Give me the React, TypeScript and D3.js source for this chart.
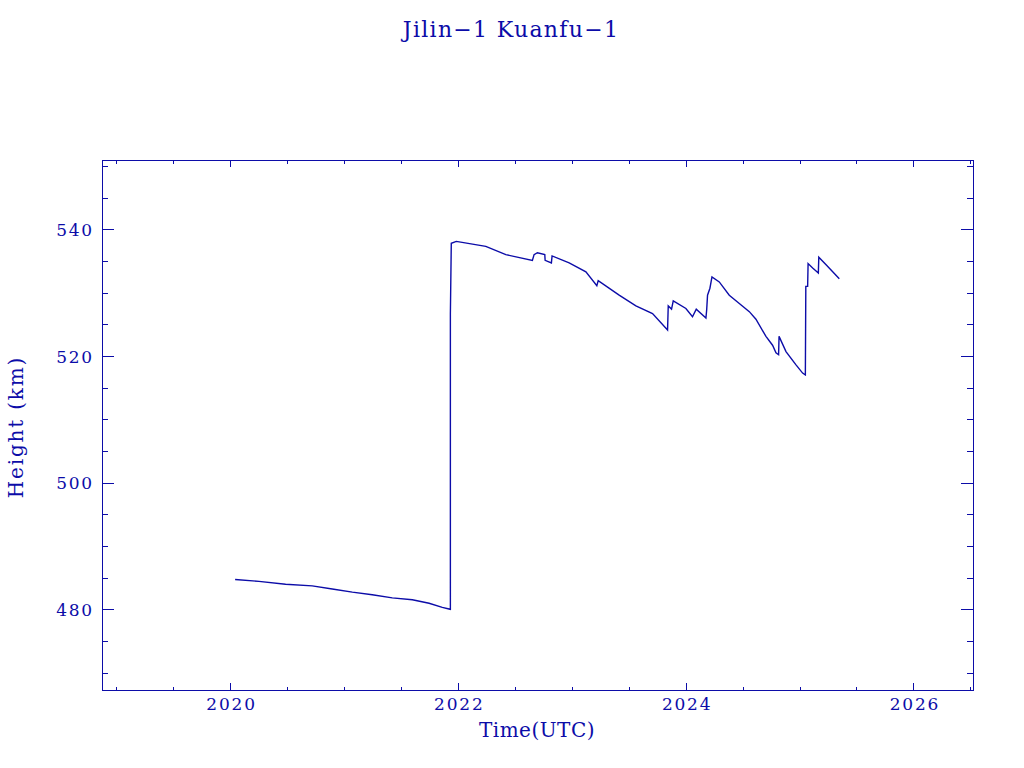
import * as d3 from 'd3';

// decimal year / height (km)
const years = [
  2020.040, 2020.249, 2020.483, 2020.717, 2020.893, 2021.069, 2021.244, 2021.420,
  2021.596, 2021.743, 2021.859, 2021.918, 2021.930, 2021.930, 2021.938, 2021.982,
  2022.241, 2022.417, 2022.650, 2022.665, 2022.694, 2022.759, 2022.762, 2022.817,
  2022.823, 2022.973, 2023.120, 2023.216, 2023.228, 2023.412, 2023.559, 2023.705,
  2023.837, 2023.843, 2023.872, 2023.887, 2023.998, 2024.056, 2024.089, 2024.174,
  2024.181, 2024.188, 2024.209, 2024.227, 2024.291, 2024.379, 2024.467, 2024.555,
  2024.613, 2024.701, 2024.759, 2024.789, 2024.812, 2024.816, 2024.877, 2024.965,
  2025.023, 2025.047, 2025.051, 2025.067, 2025.071, 2025.111, 2025.161, 2025.165,
  2025.229, 2025.287, 2025.345,
];
const heights = [
  484.8, 484.5, 484.05, 483.8, 483.3, 482.8, 482.4, 481.9,
  481.6, 481.05, 480.4, 480.15, 480.1, 526.7, 537.9, 538.2,
  537.4, 536.1, 535.2, 536.1, 536.4, 536.1, 535.2, 534.8,
  535.9, 534.8, 533.4, 531.2, 532.0, 529.7, 528.0, 526.8,
  524.2, 528.0, 527.5, 528.8, 527.6, 526.3, 527.5, 526.1,
  527.5, 529.7, 530.8, 532.6, 531.8, 529.7, 528.4, 527.1,
  525.9, 523.2, 521.8, 520.6, 520.3, 523.2, 520.8, 518.7,
  517.4, 517.1, 531.1, 531.1, 534.7, 534.0, 533.2, 535.7,
  534.5, 533.4, 532.3,
];

const xMajor = [2020, 2022, 2024, 2026];
const yMajor = [480, 500, 520, 540];
const title = 'Jilin\u22121 Kuanfu\u22121';
const xTitle = 'Time(UTC)';
const yTitle = 'Height (km)';

const W = 1024;
const H = 768;
const C = '#0c0ca8';
const FONT = "'DejaVu Serif', serif";

export default function App() {
  const left = 102, right = 973, top = 160, bottom = 690;
  const x = d3.scaleLinear().domain([2018.871, 2026.519]).range([left, right]);
  const y = d3.scaleLinear().domain([467.35, 551.05]).range([bottom, top]);

  const xMinor = d3.range(2019, 2026.51, 0.5).filter(v => !xMajor.includes(v));
  const yMinor = d3.range(470, 551, 5).filter(v => !yMajor.includes(v));

  const line = d3.line<number>()
    .x((_, i) => x(years[i]))
    .y(d => y(d));

  return (
    <svg width={W} height={H} style={{ position: 'absolute', left: 0, top: 0, background: '#fff' }}>
      <text x={511} y={37} textAnchor="middle" fill={C} fontFamily={FONT} fontSize={22}
        letterSpacing={1.3}>{title}</text>

      <rect x={left} y={top} width={right - left} height={bottom - top}
        fill="none" stroke={C} strokeWidth={1} shapeRendering="crispEdges" />

      <g stroke={C} strokeWidth={1} shapeRendering="crispEdges">
        {xMajor.map(v => (
          <g key={'xM' + v}>
            <line x1={x(v)} x2={x(v)} y1={bottom} y2={bottom - 7} />
            <line x1={x(v)} x2={x(v)} y1={top} y2={top + 7} />
          </g>
        ))}
        {xMinor.map(v => (
          <g key={'xm' + v}>
            <line x1={x(v)} x2={x(v)} y1={bottom} y2={bottom - 3.5} />
            <line x1={x(v)} x2={x(v)} y1={top} y2={top + 3.5} />
          </g>
        ))}
        {yMajor.map(v => (
          <g key={'yM' + v}>
            <line x1={left} x2={left + 12} y1={y(v)} y2={y(v)} />
            <line x1={right} x2={right - 12} y1={y(v)} y2={y(v)} />
          </g>
        ))}
        {yMinor.map(v => (
          <g key={'ym' + v}>
            <line x1={left} x2={left + 6} y1={y(v)} y2={y(v)} />
            <line x1={right} x2={right - 6} y1={y(v)} y2={y(v)} />
          </g>
        ))}
      </g>

      <g fill={C} fontFamily={FONT} fontSize={17} letterSpacing={1.8}>
        {xMajor.map(v => (
          <text key={'xl' + v} x={x(v) + 1} y={710} textAnchor="middle">{v}</text>
        ))}
        {yMajor.map(v => (
          <text key={'yl' + v} x={94} y={y(v) + 6} textAnchor="end">{v}</text>
        ))}
      </g>

      <text x={537} y={737} textAnchor="middle" fill={C} fontFamily={FONT} fontSize={20}
        letterSpacing={0.5}>{xTitle}</text>
      <text transform="translate(23,427) rotate(-90)" textAnchor="middle" fill={C}
        fontFamily={FONT} fontSize={20} letterSpacing={1.8}>{yTitle}</text>

      <path d={line(heights) || ''} fill="none" stroke={C} strokeWidth={1.4} />
    </svg>
  );
}
